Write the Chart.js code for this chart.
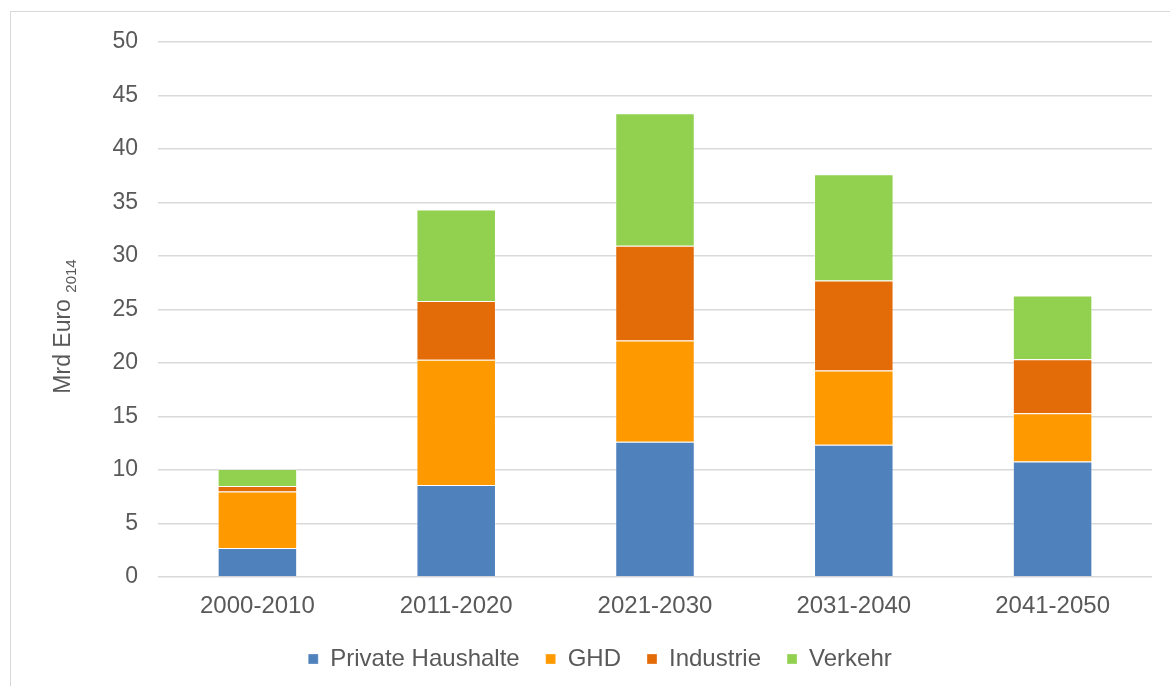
<!DOCTYPE html>
<html>
<head>
<meta charset="utf-8">
<script src="https://cdn.jsdelivr.net/npm/chart.js@4"></script>
<style>
    html, body { margin: 0; padding: 0; background: #fff; }
    #wrap { width: 1170px; height: 686px; }
</style>
</head>
<body>
<div id="wrap"><canvas id="bar-chart"></canvas></div>
<script>
// 数据
const categories = ['2000-2010', '2011-2020', '2021-2030', '2031-2040', '2041-2050'];
const privateHaushalte = [2.7, 8.6, 12.65, 12.35, 10.8];
const ghd = [5.3, 11.7, 9.45, 6.95, 4.5];
const industrie = [0.5, 5.5, 8.85, 8.4, 5.05];
const verkehr = [1.6, 8.55, 12.4, 9.95, 5.95];
const yTitle = 'Mrd Euro';
const yTitleSub = '2014';

const textColor = '#595959';
const fontFamily = '"Liberation Sans", Arial, sans-serif';

// 外框 + 纵轴标题（带下标）
const framePlugin = {
    id: 'frame',
    beforeDraw(chart) {
        const ctx = chart.ctx;
        ctx.save();
        ctx.strokeStyle = '#d9d9d9';
        ctx.lineWidth = 1;
        ctx.strokeRect(10.5, 11.5, 1200, 700);
        ctx.restore();
    },
    afterDraw(chart) {
        const ctx = chart.ctx;
        const area = chart.chartArea;
        ctx.save();
        ctx.fillStyle = textColor;
        ctx.font = '23px ' + fontFamily;
        const mainW = ctx.measureText(yTitle + ' ').width;
        ctx.font = '15px ' + fontFamily;
        const subW = ctx.measureText(yTitleSub).width;
        const cy = (area.top + area.bottom) / 2 + 17;
        ctx.translate(70, cy);
        ctx.rotate(-Math.PI / 2);
        ctx.textBaseline = 'alphabetic';
        ctx.textAlign = 'left';
        const start = -(mainW + subW) / 2;
        ctx.font = '23px ' + fontFamily;
        ctx.fillText(yTitle + ' ', start, 0);
        ctx.font = '15px ' + fontFamily;
        ctx.fillText(yTitleSub, start + mainW, 6);
        ctx.restore();
    }
};

function makeSet(label, data, color) {
    return {
        label: label,
        data: data,
        backgroundColor: color,
        borderColor: 'rgba(255,255,255,0.3)',
        borderWidth: 1,
        barPercentage: 0.4,
        categoryPercentage: 1.0
    };
}

const canvas = document.getElementById('bar-chart');
window.barChart = new Chart(canvas, {
    type: 'bar',
    data: {
        labels: categories,
        datasets: [
            makeSet('Private Haushalte', privateHaushalte, '#4f81bd'),
            makeSet('GHD', ghd, '#ff9900'),
            makeSet('Industrie', industrie, '#e36c09'),
            makeSet('Verkehr', verkehr, '#92d050')
        ]
    },
    options: {
        responsive: true,
        maintainAspectRatio: false,
        animation: false,
        layout: {
            padding: { top: 42, right: 18, bottom: 5, left: 48 }
        },
        scales: {
            x: {
                stacked: true,
                grid: { display: false, drawTicks: false },
                border: { display: false },
                ticks: {
                    color: textColor,
                    font: { family: fontFamily, size: 24 },
                    padding: 15
                },
                afterFit(scale) { scale.height = 44; }
            },
            y: {
                stacked: true,
                min: 0,
                max: 50,
                grid: { color: '#d9d9d9', lineWidth: 1.5, drawTicks: false },
                border: { display: false },
                ticks: {
                    stepSize: 5,
                    color: textColor,
                    font: { family: fontFamily, size: 23 },
                    padding: 20
                },
                afterFit(scale) { scale.width = 110; }
            }
        },
        plugins: {
            legend: {
                position: 'bottom',
                labels: {
                    color: textColor,
                    font: { family: fontFamily, size: 24 },
                    boxWidth: 10,
                    boxHeight: 10,
                    padding: 26
                }
            },
            tooltip: { enabled: false }
        }
    },
    plugins: [framePlugin]
});
</script>
</body>
</html>
